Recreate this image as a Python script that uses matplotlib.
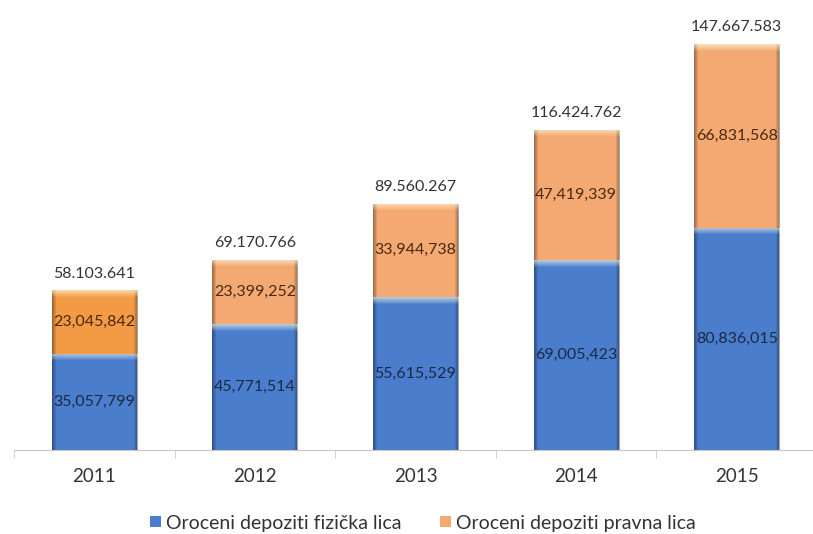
import matplotlib
matplotlib.use('Agg')
import matplotlib.pyplot as plt
import numpy as np
from matplotlib.patches import Patch

years = ['2011', '2012', '2013', '2014', '2015']
fizicka = [35057799, 45771514, 55615529, 69005423, 80836015]
pravna = [23045842, 23399252, 33944738, 47419339, 66831568]
totals = [58103641, 69170766, 89560267, 116424762, 147667583]
series_names = ['Oroceni depoziti fizička lica', 'Oroceni depoziti pravna lica']

blue = '#4a7dcc'
orange = ['#f39a45', '#f4a872', '#f4a872', '#f4a872', '#f4a872']

plt.rcParams['font.family'] = ['Lato', 'DejaVu Sans']

fig = plt.figure(figsize=(8.13, 5.34), dpi=100)
ax = fig.add_axes([14 / 813, 84 / 534, 803 / 813, 440 / 534])

x = np.arange(len(years))
w = 0.53
b1 = ax.bar(x, fizicka, w, color=blue, zorder=2)
b2 = ax.bar(x, pravna, w, bottom=fizicka, color=orange, zorder=2)

ax.set_xlim(-0.5, 4.5)
ax.set_ylim(0, 160e6)


def shade(bar):
    # bevel look: darker sides, light strip along the top edge
    x0, y0 = bar.get_x(), bar.get_y()
    x1, y1 = x0 + bar.get_width(), y0 + bar.get_height()
    p0 = ax.transData.transform((x0, y0))
    p1 = ax.transData.transform((x1, y1))
    wp = max(int(round(p1[0] - p0[0])), 2)
    hp = max(int(round(p1[1] - p0[1])), 2)
    cols = np.arange(wp)
    edge = np.minimum(cols, wp - 1 - cols)
    dark = np.clip(1 - edge / 4.0, 0, 1) * 0.35
    rows = np.arange(hp)
    light = np.clip(1 - rows / 7.0, 0, 1) * 0.6
    white = light[:, None] * np.ones((1, wp))
    black = np.ones((hp, 1)) * dark[None, :]
    comb = white + black * (1 - white)
    img = np.zeros((hp, wp, 4))
    rgb = white / np.maximum(comb, 1e-6)
    img[:, :, 0] = rgb
    img[:, :, 1] = rgb
    img[:, :, 2] = rgb * 0.9
    img[:, :, 3] = comb
    im = ax.imshow(img, extent=(x0, x1, y0, y1), aspect='auto', zorder=3,
                   interpolation='bilinear')
    im.set_clip_path(bar)


for bar in list(b1) + list(b2):
    shade(bar)

ax.set_xlim(-0.5, 4.5)
ax.set_ylim(0, 160e6)

for i in range(len(years)):
    ax.text(x[i], fizicka[i] / 2, f'{fizicka[i]:,}', ha='center', va='center',
            fontsize=11.5, color='#1a2a44', zorder=4)
    ax.text(x[i], fizicka[i] + pravna[i] / 2, f'{pravna[i]:,}', ha='center', va='center',
            fontsize=11.5, color='#4a2a10', zorder=4)
    ax.text(x[i], totals[i] + 3.5e6, f'{totals[i]:,}'.replace(',', '.'), ha='center',
            va='bottom', fontsize=11.5, color='#333333', zorder=4)

for s in ['top', 'right', 'left']:
    ax.spines[s].set_visible(False)
ax.spines['bottom'].set_color('#c8c8c8')
ax.set_yticks([])
ax.set_xticks(x)
ax.set_xticklabels(years, fontsize=13.5, color='#333333')
ax.set_xticks(np.arange(-0.5, 5, 1), minor=True)
ax.tick_params(axis='x', which='major', length=0, pad=13)
ax.tick_params(axis='x', which='minor', length=6, color='#c8c8c8')

handles = [Patch(facecolor=blue), Patch(facecolor=orange[1])]
fig.legend(handles, series_names, loc='center', bbox_to_anchor=(0.52, 11 / 534),
           ncol=2, frameon=False, fontsize=14, handlelength=0.55, handleheight=0.55,
           handletextpad=0.25, columnspacing=2.0, labelcolor='#333333')

fig.savefig('out.png', dpi=100)
